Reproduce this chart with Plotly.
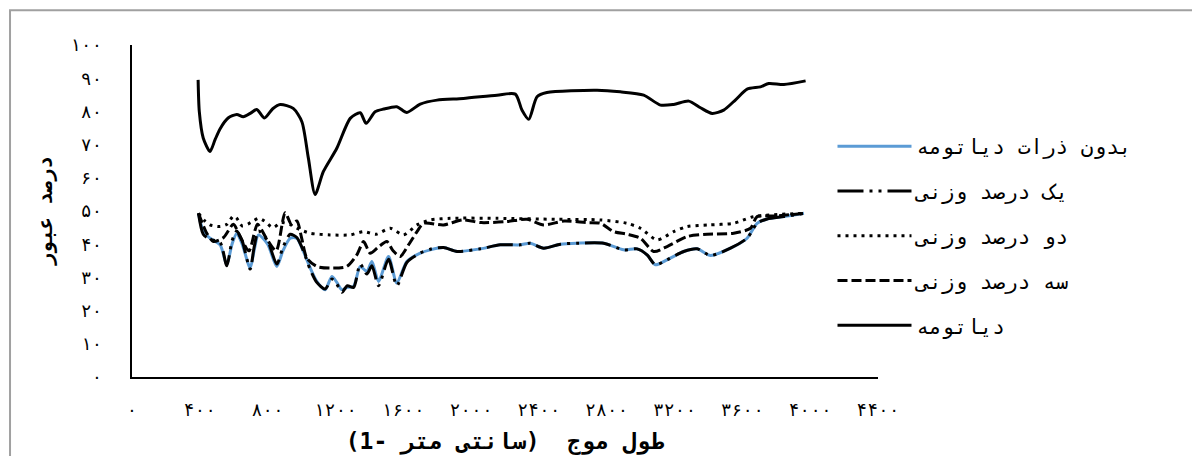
import plotly.graph_objects as go

# ---------------- data ----------------
names = ["بدون ذرات دیاتومه", "یک درصد وزنی", "دو درصد وزنی", "سه درصد وزنی", "دیاتومه"]

x_none = [392, 420, 460, 520, 559, 590, 618, 650, 697, 720, 746, 800, 854, 890, 933, 972, 1011, 1050,
          1090, 1139, 1179, 1208, 1238, 1270, 1307, 1346, 1385, 1415, 1454, 1513, 1562, 1621, 1700, 1759,
          1838, 1917, 2054, 2172, 2290, 2349, 2428, 2527, 2625, 2782, 2900, 2979, 3038, 3087, 3156, 3254,
          3333, 3412, 3530, 3628, 3687, 3746, 3845, 3963]
y_none = [49.3, 44, 41.8, 39.8, 33.8, 40, 43.3, 40, 32.8, 38, 42.8, 40, 33.3, 38, 41.8, 41.8, 37.8, 33,
          28.8, 26.3, 30.3, 28.5, 26.3, 27, 27.3, 33.3, 31.8, 34.8, 28.8, 36.3, 28.3, 34.8, 37.3, 38.3,
          39, 37.8, 38.6, 39.8, 39.8, 40.3, 38.8, 40, 40.3, 40.3, 38.3, 38.6, 36.8, 33.8, 35.3, 37.8,
          38.6, 36.6, 38.8, 41.8, 46.3, 47.6, 48.3, 49.3]

x_one = x_none
y_one = [49.3, 43, 41.5, 40.5, 33.5, 41, 44, 41, 32.5, 39, 44, 41, 34, 39, 43, 42, 38, 32.5,
         28.5, 26.5, 29.5, 28, 25.5, 27.5, 27, 34, 31, 33.5, 27.5, 35.5, 27.5, 34.5, 37.3, 38.5,
         39, 37.8, 38.6, 39.8, 39.8, 40.3, 38.8, 40, 40.3, 40.3, 38.3, 38.6, 36.8, 33.8, 35.3, 37.8,
         38.6, 36.6, 38.8, 41.8, 46.3, 47.6, 48.3, 49.3]

x_two = [392, 430, 460, 520, 560, 598, 618, 650, 700, 746, 780, 830, 880, 930, 972, 1051, 1169, 1287,
         1366, 1440, 1523, 1601, 1681, 1759, 1877, 2153, 2500, 2763, 2919, 2999, 3097, 3195, 3274, 3400,
         3549, 3667, 3963]
y_two = [49.3, 47, 45.8, 45.3, 46, 48.5, 47.8, 45.5, 46.5, 47.8, 47, 45, 46.5, 46, 44.8, 43.3, 42.8, 42.8,
         43.8, 43, 44.8, 42.8, 45.8, 47.3, 47.8, 47.8, 47.5, 47.3, 46.3, 44.8, 41.3, 43.8, 45.3, 45.8,
         46.3, 48.3, 49.3]

x_three = [392, 441, 480, 540, 598, 640, 690, 740, 790, 850, 903, 940, 972, 1000, 1031, 1090, 1169, 1267,
           1326, 1366, 1405, 1450, 1503, 1540, 1582, 1631, 1681, 1720, 1838, 1950, 2060, 2211, 2330, 2428,
           2550, 2680, 2763, 2841, 2920, 2999, 3077, 3156, 3274, 3392, 3549, 3648, 3687, 3800, 3963]
y_three = [49.3, 43.3, 40.8, 42, 46, 42, 38, 46, 42, 38, 49.5, 46, 47, 42, 35.8, 33.3, 32.8, 33.3,
           36.8, 40.8, 37.3, 39, 40.8, 38, 36.3, 39.8, 43.8, 46.3, 45.8, 47.3, 46.5, 46.8, 47.5, 45.8,
           47, 46.5, 46.3, 43.8, 43, 41.8, 37.8, 39.3, 42.3, 43, 43.3, 44.8, 48.3, 48.5, 49.3]

x_diat = [390, 397, 420, 460, 490, 520, 567, 618, 656, 700, 736, 781, 830, 874, 951, 1002, 1040, 1080,
          1129, 1208, 1287, 1346, 1381, 1434, 1484, 1562, 1621, 1700, 1799, 1954, 2153, 2261, 2300, 2340,
          2389, 2447, 2743, 2880, 3018, 3117, 3195, 3284, 3353, 3422, 3490, 3560, 3628, 3707, 3756,
          3845, 3973]
y_diat = [89.5, 79.9, 72, 67.9, 71.5, 74.8, 78, 79.1, 78.4, 79.5, 80.6, 78, 80.8, 82.1, 80.9, 76.9, 66, 55,
          61.9, 68.9, 77.9, 79.6, 76.4, 79.9, 80.7, 81.4, 79.7, 82.2, 83.4, 83.9, 84.9, 85.2, 80.4, 77.6,
          84.4, 85.7, 86.4, 85.9, 84.9, 81.9, 82.1, 83.1, 81.1, 79.4, 80.4, 83.5, 86.7, 87.4, 88.4,
          88.1, 89.2]

x_tickvals = [0, 400, 800, 1200, 1600, 2000, 2400, 2800, 3200, 3600, 4000, 4400]
x_ticktext = ["۰", "۴۰۰", "۸۰۰", "۱۲۰۰", "۱۶۰۰", "۲۰۰۰", "۲۴۰۰", "۲۸۰۰", "۳۲۰۰", "۳۶۰۰", "۴۰۰۰", "۴۴۰۰"]
y_tickvals = [0, 10, 20, 30, 40, 50, 60, 70, 80, 90, 100]
y_ticktext = ["۰", "۱۰", "۲۰", "۳۰", "۴۰", "۵۰", "۶۰", "۷۰", "۸۰", "۹۰", "۱۰۰"]

x_title = "طول موج  (سانتی متر -1)"
y_title = "درصد عبور"

# ---------------- figure ----------------
FONT = "DejaVu Sans Mono"

series = [
    (x_none, y_none, dict(color="#5B9BD5", width=3)),
    (x_one, y_one, dict(color="black", width=3, dash="26px,6px,3px,6px,3px,6px")),
    (x_two, y_two, dict(color="black", width=3, dash="3px,5px")),
    (x_three, y_three, dict(color="black", width=3, dash="10px,4px")),
    (x_diat, y_diat, dict(color="black", width=3)),
]

fig = go.Figure()
for i, (xs, ys, ln) in enumerate(series):
    fig.add_trace(go.Scatter(
        x=xs, y=ys, mode="lines", name=names[i], legendgroup=f"g{i}",
        line=dict(shape="spline", smoothing=0.7, **ln),
    ))

fig.update_layout(
    width=1192, height=448,
    margin=dict(l=124, r=322, t=37, b=79, autoexpand=False),
    paper_bgcolor="white", plot_bgcolor="white",
    font=dict(family=FONT, size=18, color="black"),
    showlegend=True,
    legend=dict(x=0.939, y=0.756, xanchor="left", yanchor="top",
                itemwidth=74, tracegroupgap=14.5, font=dict(family=FONT, size=21)),
    xaxis=dict(range=[0, 4400], tickvals=x_tickvals, ticktext=x_ticktext, automargin=False,
               showline=True, linecolor="black", linewidth=2, showgrid=False, zeroline=False,
               ticks="", ticklabelstandoff=15, tickfont=dict(size=18),
               title=dict(text="<b>" + x_title + "</b>", standoff=14, font=dict(size=23))),
    yaxis=dict(range=[0, 100], tickvals=y_tickvals, ticktext=y_ticktext, automargin=False,
               showline=True, linecolor="black", linewidth=2, showgrid=False, zeroline=False,
               ticks="", ticklabelstandoff=24, tickfont=dict(size=18),
               title=dict(text="<b>" + y_title + "</b>", standoff=12, font=dict(size=20))),
    shapes=[dict(type="rect", xref="paper", yref="paper",
                 x0=-0.1635, x1=1.5, y0=-0.3, y1=1.105,
                 line=dict(color="#A0A0A0", width=2), fillcolor="rgba(0,0,0,0)", layer="below")],
)

fig.write_html("out.html")
